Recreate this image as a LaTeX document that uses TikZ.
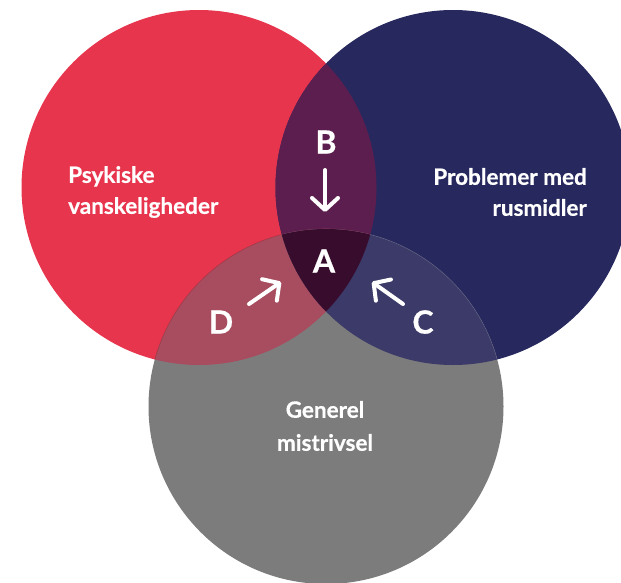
\documentclass[tikz,border=0pt]{standalone}
\usepackage{fontspec}
\setmainfont{Lato}[BoldFeatures={FakeBold=0.6}]
\usetikzlibrary{arrows.meta}
\definecolor{cred}{HTML}{E8354E}
\definecolor{cblue}{HTML}{27285E}
\definecolor{cgray}{HTML}{7C7C7C}
\definecolor{cB}{HTML}{5C1E4E}
\definecolor{cA}{HTML}{380C2C}
\definecolor{cD}{HTML}{A84D5F}
\definecolor{cC}{HTML}{3B3A69}
\begin{document}
\begin{tikzpicture}[x=1pt,y=-1pt,
  lbl/.style={text=white,inner sep=0pt,font=\bfseries\fontsize{22.5}{31}\selectfont},
  letter/.style={text=white,inner sep=0pt,font=\bfseries\fontsize{32}{32}\selectfont},
  arr/.style={white,line width=4pt,line cap=round,-{Straight Barb[round,length=12pt,width=26pt]}}]
\useasboundingbox (0,0) rectangle (621,582);
\clip (0,0) rectangle (621,582);
\def\rr{177.5}
\coordinate (R) at (199,187.5);
\coordinate (U) at (453,187.5);
\coordinate (G) at (326,406.5);
\fill[cred] (R) circle (\rr);
\fill[cblue] (U) circle (\rr);
\fill[cgray] (G) circle (\rr);
\begin{scope}
  \clip (R) circle (\rr);
  \fill[cB] (U) circle (\rr);
  \fill[cD] (G) circle (\rr);
  \draw[cred!70!black,opacity=.6,line width=.6pt] (G) circle (\rr);
\end{scope}
\begin{scope}
  \clip (U) circle (\rr);
  \fill[cC] (G) circle (\rr);
  \draw[white,opacity=.15,line width=.6pt] (G) circle (\rr);
\end{scope}
\begin{scope}
  \clip (R) circle (\rr);
  \clip (U) circle (\rr);
  \fill[cA] (G) circle (\rr);
\end{scope}
\node[lbl,align=left,anchor=west] (psy) at (68,192) {Psykiske\\vanskeligheder};
\node[lbl,align=right,anchor=east] (pro) at (587,192) {Problemer med\\rusmidler};
\node[lbl,align=center,anchor=center,font=\bfseries\fontsize{22.5}{33}\selectfont] (gen) at (325,426) {Generel\\mistrivsel};
\node[letter] (B) at (326,142) {B};
\node[letter] (A) at (324,261) {A};
\node[letter] (D) at (221,322) {D};
\node[letter] (C) at (423,322) {C};
\coordinate (b1) at (325,170);
\coordinate (b2) at (325,212);
\coordinate (d1) at (249,304);
\coordinate (d2) at (281,282);
\coordinate (c1) at (403,304);
\coordinate (c2) at (372,282);
\draw[arr] (b1) -- (b2);
\draw[arr] (d1) -- (d2);
\draw[arr] (c1) -- (c2);
\end{tikzpicture}
\end{document}
